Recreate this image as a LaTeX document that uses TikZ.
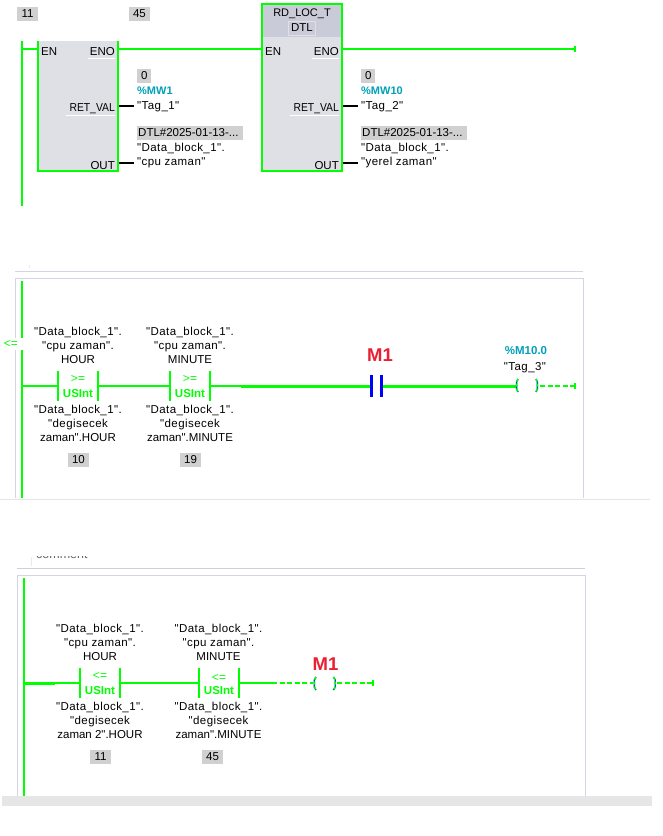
\documentclass[tikz,border=0pt]{standalone}
\usepackage{graphicx}
\usepackage{fontspec}
\setmainfont{DejaVu Sans}
\newfontfamily\lib{Liberation Sans}
\newfontfamily\libw[LetterSpace=3.7]{Liberation Sans}
\newcommand{\ww}[1]{{\libw #1}}
\definecolor{wire}{RGB}{0,255,0}
\definecolor{blk}{RGB}{223,223,230}
\definecolor{hdr}{RGB}{201,203,217}
\definecolor{val}{RGB}{208,208,208}
\definecolor{frameC}{RGB}{213,211,230}
\definecolor{frameG}{RGB}{208,207,216}
\definecolor{teal}{RGB}{0,160,185}
\definecolor{bandC}{RGB}{230,230,230}
\definecolor{redM}{RGB}{235,30,50}
\tikzset{
 x=1pt,y=-1pt,
 wirel/.style={draw=wire,line width=2pt},
 thickw/.style={draw=wire,line width=3pt},
 dashw/.style={draw=wire,line width=1.6pt,dash pattern=on 5pt off 2.5pt},
 stub/.style={draw=black,line width=2pt},
 txt/.style={inner sep=0pt,font=\lib\fontsize{11.5}{13}\selectfont,text=black},
 lab/.style={txt,anchor=west},
 pinr/.style={txt,anchor=east},
 opnd/.style={txt,align=center,font=\lib\fontsize{11.5}{14}\selectfont},
 tagc/.style={txt,anchor=west,text=teal,font=\lib\bfseries\fontsize{11}{13}\selectfont},
 valbox/.style={fill=val,inner sep=0pt,minimum height=14pt,text=black,font=\lib\fontsize{11.5}{13}\selectfont},
 opgreen/.style={inner sep=0pt,text=wire,font=\lib\fontsize{12}{12}\selectfont},
 typegreen/.style={inner sep=0pt,text=wire,font=\lib\bfseries\fontsize{11.5}{13}\selectfont},
 redm/.style={inner sep=0pt,text=redM,font=\lib\bfseries\fontsize{18.5}{20}\selectfont},
 frameline/.style={draw=frameC,line width=1pt},
 coilb/.style={draw=blue!70!wire,line width=1.4pt},
 coilg/.style={draw=wire,line width=1.5pt,dash pattern=on 3pt off 2pt},
 pinline/.style={draw=white,line width=1pt},
 contactbar/.style={draw=blue,line width=3pt},
 endtick/.style={draw=wire,line width=2pt}
}
\begin{document}
\begin{tikzpicture}
\useasboundingbox (0,0) rectangle (662,836);
\fill[white] (0,0) rectangle (662,836);
% ---------- network 1
\node[valbox,minimum width=21pt] (v11) at (27.5,14) {11};
\node[valbox,minimum width=21pt] (v45) at (139.5,14) {45};
\coordinate (r1t) at (22,41);
\coordinate (r1b) at (22,206);
\coordinate (r1w) at (22,49);
\draw[wirel] (r1t) -- (r1b);
% block 1
\fill[blk] (38,41) rectangle (118,171);
\draw[wirel] (38,41) -- (38,171) -- (118,171) -- (118,41);
\coordinate (b1en) at (38,49);
\coordinate (b1eno) at (118,49);
\draw[wirel] (r1w) -- (b1en);
\node[lab] (en1) at (41,52) {EN};
\node[pinr] (eno1) at (115,52) {ENO};
\node[pinr] (ret1) at (115,109) {\scalebox{.9}[1]{RET\_VAL}};
\node[pinr] (out1) at (115,166) {OUT};
\draw[pinline] (88,58.5) -- (115,58.5);
\draw[pinline] (66,115.5) -- (115,115.5);
% block 2
\fill[blk] (262,37) rectangle (342,171);
\fill[hdr] (262,4) rectangle (342,37);
\draw[wirel] (262,4) rectangle (342,171);
\node[txt,font=\lib\fontsize{11}{13}\selectfont] (n2a) at (302,13.5) {RD\_LOC\_T};
\node[txt,draw=blk,line width=.8pt,inner xsep=3pt,minimum height=14pt] (n2b) at (302,28) {DTL};
\coordinate (b2en) at (262,49);
\coordinate (b2eno) at (342,49);
\draw[wirel] (b1eno) -- (b2en);
\node[lab] (en2) at (265,52) {EN};
\node[pinr] (eno2) at (339,52) {ENO};
\node[pinr] (ret2) at (339,109) {\scalebox{.9}[1]{RET\_VAL}};
\node[pinr] (out2) at (339,166) {OUT};
\draw[pinline] (312,58.5) -- (339,58.5);
\draw[pinline] (290,115.5) -- (339,115.5);
\coordinate (end1) at (575,49);
\draw[wirel] (b2eno) -- (end1);
\draw[endtick] (575,46) -- (575,52);
% operands block 1
\node[valbox,minimum width=14pt,anchor=west] (z1) at (137,76) {0};
\node[tagc] (mw1) at (137,91) {\%MW1};
\node[lab] (tag1) at (137,106.5) {\ww{"Tag\_1"}};
\node[valbox,minimum width=106pt,anchor=west,align=left,text width=104pt,inner xsep=1pt] (dtl1) at (137,133) {\raisebox{-1pt}{DTL\#2025-01-13-...}};
\node[lab] (db1) at (137,148.5) {\ww{"Data\_block\_1".}};
\node[lab] (cz1) at (137,162.5) {\ww{"cpu zaman"}};
\coordinate (s1a) at (119,105.5); \coordinate (s1b) at (134,105.5);
\coordinate (s2a) at (119,163); \coordinate (s2b) at (134,163);
\draw[stub] (s1a) -- (s1b);
\draw[stub] (s2a) -- (s2b);
% operands block 2
\node[valbox,minimum width=14pt,anchor=west] (z2) at (361,76) {0};
\node[tagc] (mw2) at (361,91) {\%MW10};
\node[lab] (tag2) at (361,106.5) {\ww{"Tag\_2"}};
\node[valbox,minimum width=106pt,anchor=west,align=left,text width=104pt,inner xsep=1pt] (dtl2) at (361,133) {\raisebox{-1pt}{DTL\#2025-01-13-...}};
\node[lab] (db2) at (361,148.5) {\ww{"Data\_block\_1".}};
\node[lab] (yz2) at (361,162.5) {\ww{"yerel zaman"}};
\coordinate (s3a) at (343,105.5); \coordinate (s3b) at (358,105.5);
\coordinate (s4a) at (343,163); \coordinate (s4b) at (358,163);
\draw[stub] (s3a) -- (s3b);
\draw[stub] (s4a) -- (s4b);
% ---------- network 2
\draw[frameline] (15,271.5) -- (583,271.5);
\draw[draw=frameC!50,line width=.6pt] (29,265) -- (29,268);
\draw[frameline] (15.5,498) -- (15.5,278.5) -- (583.5,278.5) -- (583.5,498);
\draw[draw=bandC,line width=1pt] (0,499) -- (650,499);
\coordinate (r2t) at (22,281);
\coordinate (r2b) at (22,498);
\draw[wirel] (r2t) -- (r2b);
\fill[white] (3,338) rectangle (26,350);
\node[opgreen] (le) at (11,343.5) {<=};
\coordinate (w2a) at (22,386);
\coordinate (c1l) at (58,386); \coordinate (c1r) at (98,386);
\coordinate (c2l) at (170,386); \coordinate (c2r) at (210,386);
\draw[wirel] (w2a) -- (c1l);
\draw[wirel] (58,371) -- (58,401);
\draw[wirel] (98,371) -- (98,401);
\draw[wirel] (c1r) -- (c2l);
\draw[wirel] (170,371) -- (170,401);
\draw[wirel] (210,371) -- (210,401);
\node[opgreen] (o1) at (78,378.5) {>=};
\node[typegreen] (t1) at (78,393.5) {USInt};
\node[opgreen] (o2) at (190,378.5) {>=};
\node[typegreen] (t2) at (190,393.5) {USInt};
\node[opnd] (a1) at (78,345) {\ww{"Data\_block\_1".}\\\ww{"cpu zaman".}\\HOUR};
\node[opnd] (a2) at (190,345) {\ww{"Data\_block\_1".}\\\ww{"cpu zaman".}\\MINUTE};
\node[opnd] (b1) at (78,423) {\ww{"Data\_block\_1".}\\\ww{"degisecek}\\zaman".HOUR};
\node[opnd] (b2) at (190,423) {\ww{"Data\_block\_1".}\\\ww{"degisecek}\\zaman".MINUTE};
\node[valbox,minimum width=21pt] (n10) at (78.5,460) {10};
\node[valbox,minimum width=21pt] (n19) at (190.5,460) {19};
\coordinate (w2b) at (241,386.5);
\coordinate (m1l) at (371,386.5); \coordinate (m1r) at (382,386.5);
\coordinate (cl) at (516,386.5);
\draw[wirel] (c2r) -- (241,386);
\draw[thickw] (w2b) -- (m1l);
\draw[thickw] (m1r) -- (cl);
\draw[contactbar] (371.5,375) -- (371.5,397);
\draw[contactbar] (381.5,375) -- (381.5,397);
\node[redm] (m1a) at (380,355.5) {M1};
\node[txt,text=teal,font=\lib\bfseries\fontsize{11.5}{13}\selectfont] (m10) at (526,351) {\%M10.0};
\node[txt] (tag3) at (525,367.5) {\ww{"Tag\_3"}};
\foreach \st in {coilb,coilg}{
 \draw[\st] (518,379) -- (516.6,382) -- (516.6,389) -- (518,392);
 \draw[\st] (536,379) -- (537.4,382) -- (537.4,389) -- (536,392);
}
\coordinate (d1) at (540,386);
\coordinate (d2) at (575,386);
\draw[dashw] (d1) -- (d2);
\draw[endtick] (575,383) -- (575,389);
% ---------- network 3
\begin{scope}
\clip (30,556.6) rectangle (110,558.4);
\node[inner sep=0pt,text=black!60,font=\lib\fontsize{12.5}{13}\selectfont,anchor=base west] (cmt) at (36,558.2) {comment};
\end{scope}
\draw[draw=frameC!50,line width=.8pt] (31,557) -- (31,566);
\draw[draw=frameG,line width=1pt] (17,568.5) -- (585,568.5);
\draw[frameline] (17.5,796) -- (17.5,575.5) -- (585.5,575.5) -- (585.5,796);
\fill[bandC] (2,796) rectangle (652,806);
\coordinate (r3t) at (24,578);
\coordinate (r3b) at (24,796);
\draw[wirel] (r3t) -- (r3b);
\coordinate (w3a) at (24,683);
\coordinate (w3k) at (55,683);
\coordinate (d1l) at (80,683); \coordinate (d1r) at (120,683);
\coordinate (d2l) at (199,683); \coordinate (d2r) at (239,683);
\coordinate (d3) at (272,683);
\draw[thickw] (w3a) -- (w3k);
\draw[wirel] (w3k) -- (d1l);
\draw[wirel] (80,668) -- (80,698);
\draw[wirel] (120,668) -- (120,698);
\draw[wirel] (d1r) -- (d2l);
\draw[wirel] (199,668) -- (199,698);
\draw[wirel] (239,668) -- (239,698);
\draw[wirel] (d2r) -- (d3);
\node[opgreen] (o3) at (100,675.5) {<=};
\node[typegreen] (t3) at (100,690.5) {USInt};
\node[opgreen] (o4) at (219,677.5) {<=};
\node[typegreen] (t4) at (219,690.5) {USInt};
\node[opnd] (a3) at (100,642) {\ww{"Data\_block\_1".}\\\ww{"cpu zaman".}\\HOUR};
\node[opnd] (a4) at (218.5,642) {\ww{"Data\_block\_1".}\\\ww{"cpu zaman".}\\MINUTE};
\node[opnd] (b3) at (100,720) {\ww{"Data\_block\_1".}\\\ww{"degisecek}\\zaman 2".HOUR};
\node[opnd] (b4) at (218.5,720) {\ww{"Data\_block\_1".}\\\ww{"degisecek}\\zaman".MINUTE};
\node[valbox,minimum width=21pt] (n11) at (100.5,757) {11};
\node[valbox,minimum width=21pt] (n45) at (212.5,757) {45};
\node[redm] (m1b) at (325.5,664.5) {M1};
\foreach \st in {coilb,coilg}{
 \draw[\st] (316,677) -- (314.3,680) -- (314.3,687) -- (316,690);
 \draw[\st] (333.5,677) -- (335.2,680) -- (335.2,687) -- (333.5,690);
}
\coordinate (c3l) at (313,683);
\coordinate (c3r) at (337,683);
\coordinate (e3) at (373,683);
\draw[dashw] (d3) -- (c3l);
\draw[dashw] (c3r) -- (e3);
\draw[endtick] (373,680) -- (373,686);
\end{tikzpicture}
\end{document}
